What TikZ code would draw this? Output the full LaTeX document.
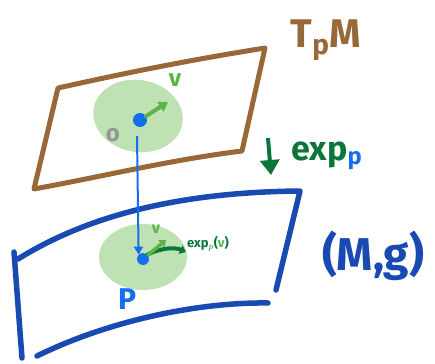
\documentclass[tikz,border=0pt]{standalone}
\usepackage{fontspec}
\setmainfont{Fira Sans}
\usetikzlibrary{arrows.meta,shapes.geometric}
\definecolor{brn}{RGB}{152,104,56}
\definecolor{mblue}{RGB}{24,74,178}
\definecolor{pblue}{RGB}{20,110,240}
\definecolor{gfill}{RGB}{190,226,180}
\definecolor{lgreen}{RGB}{92,180,72}
\definecolor{dgreen}{RGB}{12,118,58}
\definecolor{gry}{RGB}{150,150,150}
\tikzset{
  brownedge/.style={draw=brn,line width=5pt,line cap=round,line join=round},
  blueedge/.style={draw=mblue,line width=5.5pt,line cap=round,line join=round},
  nbhd/.style={ellipse,fill=gfill,draw=none},
  pdot/.style={circle,fill=pblue,inner sep=0pt,minimum size=14pt},
  lbl/.style={font=\bfseries,inner sep=0pt},
}
\begin{document}
\begin{tikzpicture}[x=1pt,y=-1pt]
\useasboundingbox (0,0) rectangle (435,363);
% tangent plane
\draw[brownedge] (58,88) .. controls (130,72) and (190,60) .. (265,48)
  -- (242,151) .. controls (170,160) and (110,175) .. (34,189) -- cycle;
% manifold
\draw[blueedge] (18,259) .. controls (100,208) and (200,192) .. (300,191) -- (276,290);
\draw[blueedge] (14,252) -- (22,358);
\draw[blueedge] (37,356) .. controls (110,320) and (200,302) .. (268,303);
% neighbourhoods
\node[nbhd,minimum width=90pt,minimum height=72pt,rotate=-10] (U) at (138,116) {};
\node[nbhd,minimum width=88pt,minimum height=66pt] (V) at (143,257) {};
% origin mark
\node[lbl,text=gry,font=\bfseries\fontsize{24}{24}\selectfont] (o) at (113,135) {o};
% points
\node[pdot] (p0) at (140,120) {};
\node[pdot,minimum size=12pt] (p1) at (143,259) {};
% vector v
\coordinate (vt) at (168,102);
\draw[lgreen,line width=4pt,line cap=round,-{Triangle[width=11pt,length=9pt]}] (p0) -- (vt);
\node[lbl,text=lgreen,font=\bfseries\fontsize{24}{24}\selectfont] (vlab) at (175,80) {v};
% image curve
\coordinate (et) at (186,252);
\draw[dgreen,line width=4pt,line cap=round,-{Triangle[width=9pt,length=6pt]}] (p1.north east) .. controls (160,248) and (175,247) .. (et);
\coordinate (lt) at (166,240);
\draw[lgreen,line width=3.5pt,line cap=round,-{Triangle[width=9pt,length=6pt]}] (p1) -- (lt);
\node[lbl,text=lgreen,font=\bfseries\fontsize{16}{16}\selectfont] (vsmall) at (156,229) {v};
\node[lbl,text=dgreen,font=\bfseries\fontsize{13}{13}\selectfont,anchor=west] (explab) at (187,244) {exp$_p$(\textcolor{lgreen}{v})};
% vertical connector
\draw[pblue,line width=2pt,-{Triangle[width=9pt,length=8pt]}] (137,136) -- (p1.north west);
% labels
\node[lbl,text=pblue,font=\bfseries\fontsize{30}{30}\selectfont] (P) at (127,299) {P};
\node[lbl,text=brn,font=\bfseries\fontsize{40}{40}\selectfont] (TpM) at (326,40) {T$_{\mathbf p}$M};
\node[lbl,text=dgreen,font=\bfseries\fontsize{34}{34}\selectfont] (exp) at (327,156) {exp\textcolor{pblue}{$_{\mathbf p}$}};
\coordinate (a0) at (268,138);
\coordinate (a1) at (271,175);
\draw[dgreen,line width=4pt,-{Triangle[width=19pt,length=15pt]}] (a0) -- (a1);
\node[lbl,text=mblue,font=\bfseries\fontsize{46}{46}\selectfont] (Mg) at (373,256) {(M,g)};
\end{tikzpicture}
\end{document}
